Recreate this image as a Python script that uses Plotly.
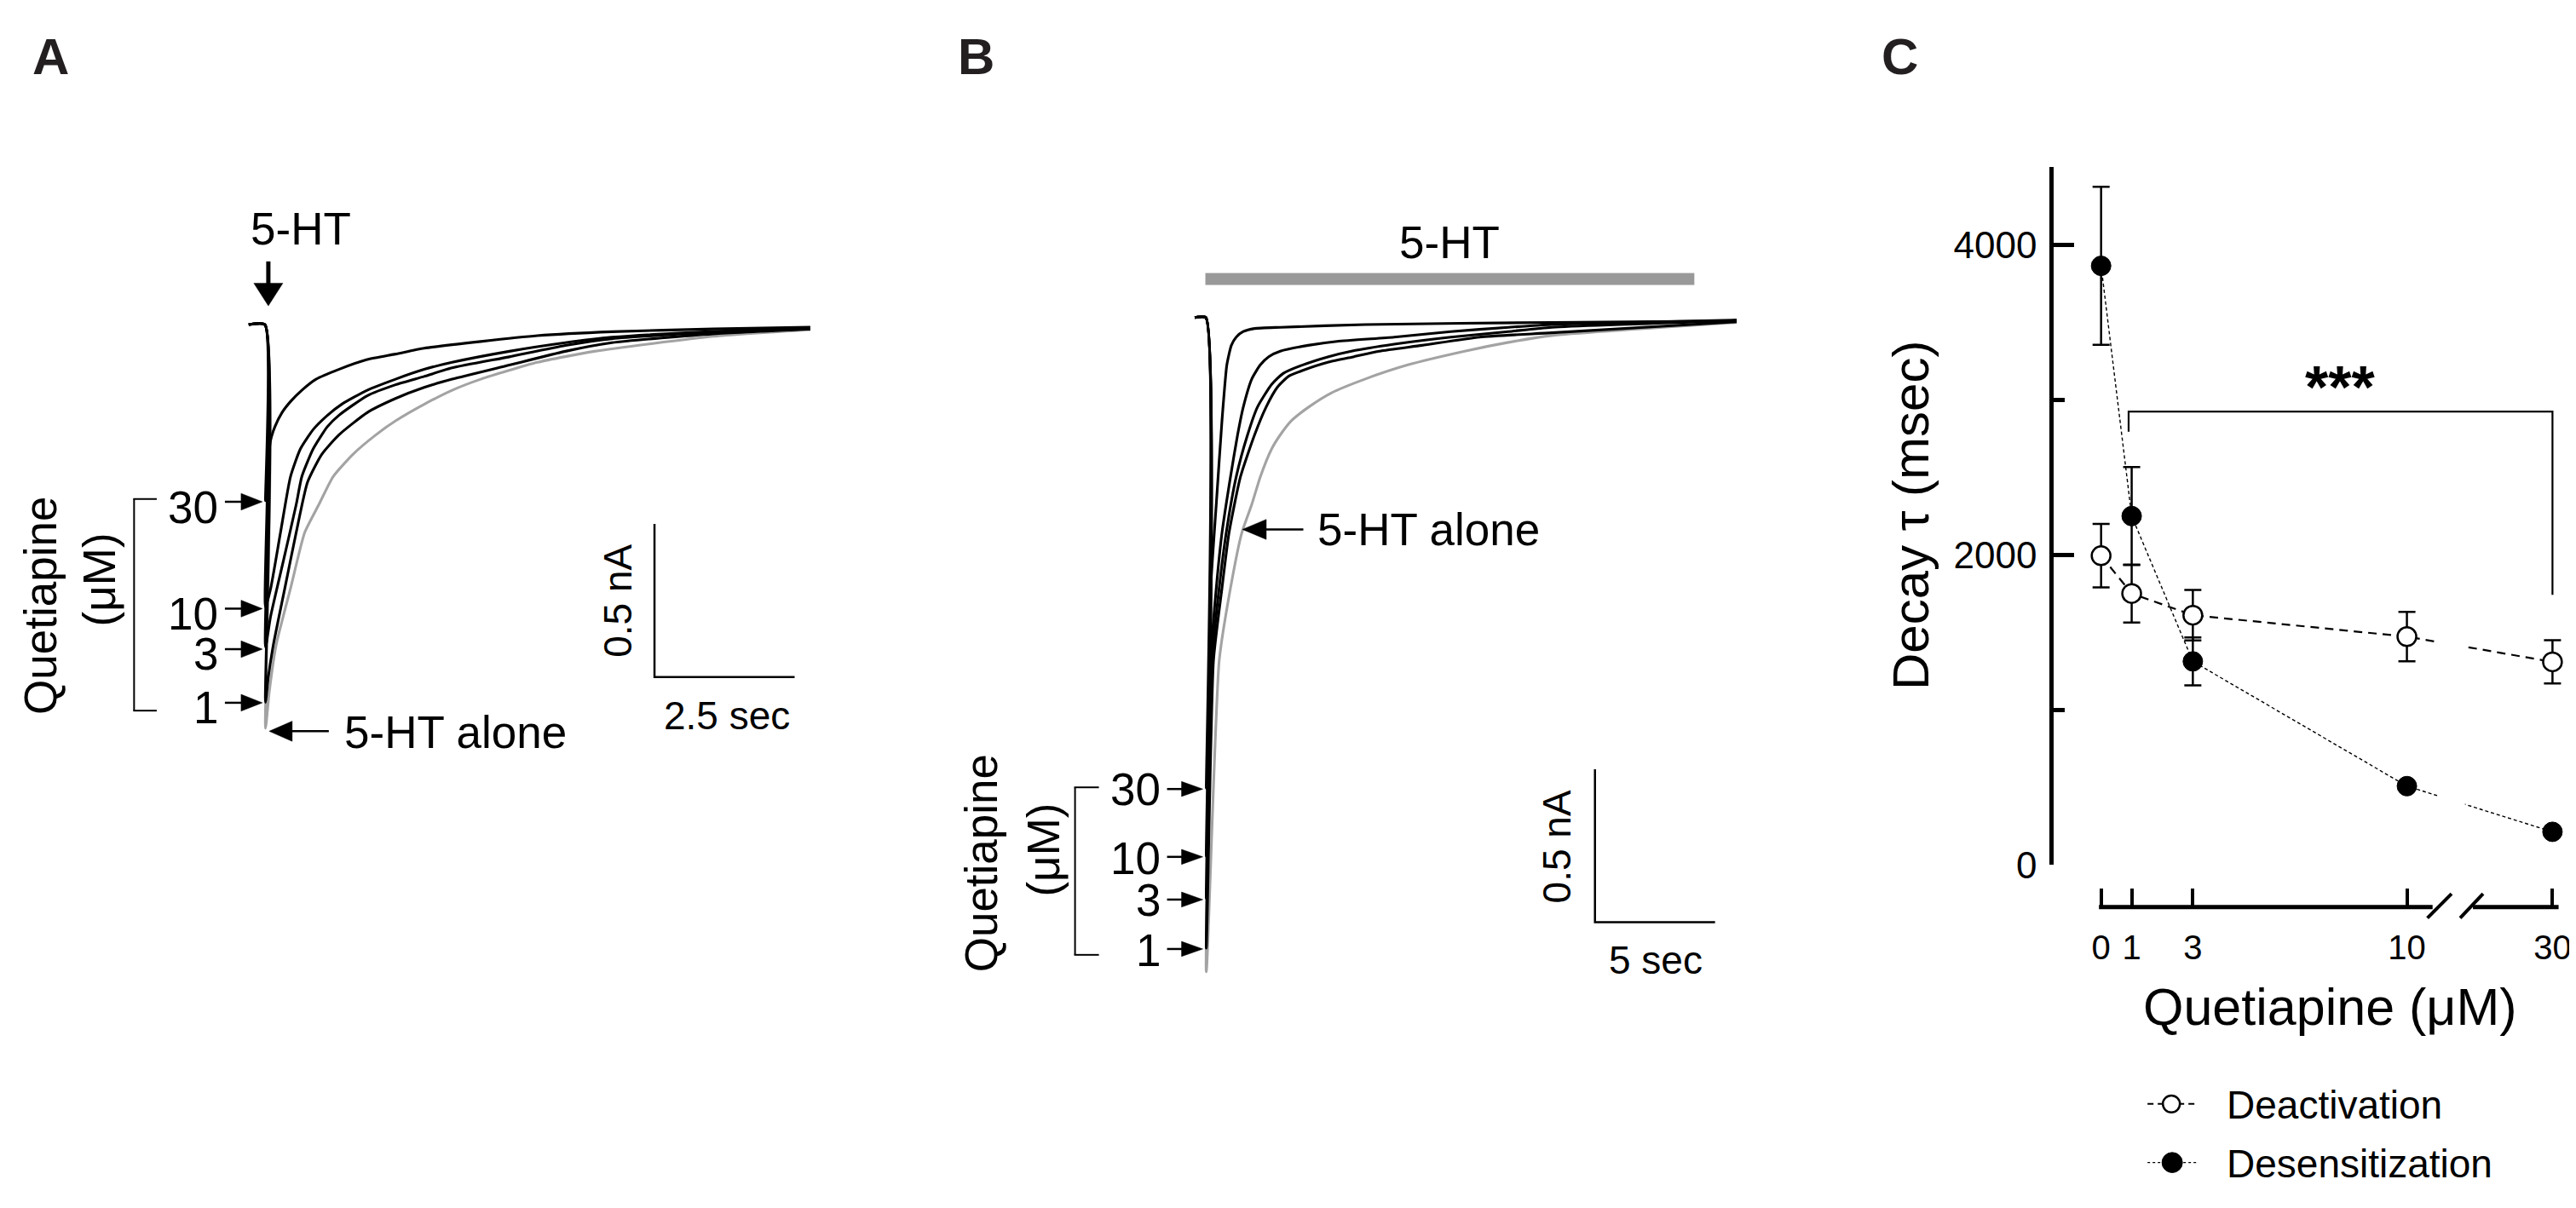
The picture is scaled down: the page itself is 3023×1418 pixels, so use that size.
import plotly.graph_objects as go

W, H = 3023, 1418
FONT = "Liberation Sans, Arial, Helvetica, sans-serif"
INK = "#000000"
GRAY = "#a3a3a3"

# ---------------- Panel A: 5-HT evoked currents (time in s, current in nA) ----------------
a_t_alone = [-0.29, 0.0, 0.01, 0.076, 0.202, 0.456, 0.710, 0.962, 1.216, 1.570, 1.976, 2.33, 2.84, 3.34, 3.85, 4.86, 5.88, 8.0, 9.73]
a_i_alone = [0, 0, -1.317, -1.20, -1.043, -0.861, -0.678, -0.587, -0.496, -0.423, -0.360, -0.314, -0.260, -0.214, -0.178, -0.123, -0.087, -0.038, -0.016]
a_t_q1 = [-0.29, 0.0, 0.01, 0.06, 0.152, 0.354, 0.558, 0.760, 1.014, 1.318, 1.824, 2.33, 2.84, 3.34, 4.36, 5.36, 6.19, 8.0, 9.73]
a_i_q1 = [0, 0, -1.232, -1.15, -1.043, -0.861, -0.678, -0.514, -0.423, -0.360, -0.287, -0.241, -0.205, -0.178, -0.132, -0.087, -0.059, -0.030, -0.014]
a_t_q3 = [-0.29, 0.0, 0.01, 0.102, 0.330, 0.558, 0.658, 0.862, 1.114, 1.318, 1.824, 2.33, 2.84, 3.34, 4.36, 5.36, 6.19, 8.0, 9.73]
a_i_q3 = [0, 0, -1.052, -0.951, -0.770, -0.587, -0.496, -0.405, -0.333, -0.296, -0.232, -0.196, -0.169, -0.141, -0.105, -0.068, -0.046, -0.025, -0.014]
a_t_q10 = [-0.29, 0.0, 0.01, 0.102, 0.278, 0.456, 0.634, 0.862, 1.114, 1.368, 1.824, 2.33, 2.84, 3.34, 4.36, 5.36, 6.19, 8.0, 9.73]
a_i_q10 = [0, 0, -0.921, -0.861, -0.678, -0.496, -0.405, -0.342, -0.296, -0.260, -0.214, -0.178, -0.146, -0.123, -0.087, -0.059, -0.041, -0.022, -0.011]
a_t_q30 = [-0.29, 0.0, 0.01, 0.050, 0.102, 0.178, 0.304, 0.456, 0.658, 0.912, 1.318, 1.824, 2.33, 2.84, 3.85, 4.86, 6.19, 8.0, 9.73]
a_i_q30 = [0, 0, -0.574, -0.459, -0.377, -0.333, -0.287, -0.251, -0.214, -0.178, -0.146, -0.114, -0.096, -0.077, -0.055, -0.036, -0.023, -0.014, -0.008]

# ---------------- Panel B: 5-HT continuous application ----------------
b_t_alone = [-0.46, 0.0, 0.02, 0.557, 1.028, 1.50, 1.915, 2.27, 2.74, 3.10, 3.57, 4.28, 5.22, 6.64, 8.41, 10.78, 12.55, 14.4, 22.1]
b_i_alone = [0, 0, -2.14, -1.123, -0.885, -0.704, -0.611, -0.521, -0.430, -0.384, -0.337, -0.293, -0.247, -0.201, -0.155, -0.110, -0.082, -0.059, -0.016]
b_t_q1 = [-0.46, 0.0, 0.02, 0.319, 0.674, 0.968, 1.443, 2.03, 2.51, 2.98, 3.45, 4.04, 5.11, 6.17, 7.23, 9.0, 11.4, 14.4, 22.1]
b_i_q1 = [0, 0, -2.063, -1.123, -0.885, -0.704, -0.521, -0.384, -0.293, -0.228, -0.192, -0.173, -0.146, -0.128, -0.110, -0.091, -0.064, -0.050, -0.014]
b_t_q3 = [-0.46, 0.0, 0.02, 0.259, 0.557, 0.851, 1.266, 1.738, 2.15, 2.74, 3.22, 4.04, 5.11, 6.06, 7.84, 10.2, 12.6, 14.4, 22.1]
b_i_q3 = [0, 0, -1.90, -1.123, -0.885, -0.704, -0.521, -0.384, -0.293, -0.219, -0.183, -0.155, -0.128, -0.110, -0.087, -0.064, -0.046, -0.032, -0.011]
b_t_q10 = [-0.46, 0.0, 0.02, 0.202, 0.436, 0.674, 1.028, 1.323, 1.56, 1.915, 2.27, 2.62, 3.10, 4.26, 5.46, 7.84, 10.2, 12.6, 14.4, 22.1]
b_i_q10 = [0, 0, -1.762, -1.123, -0.885, -0.704, -0.521, -0.384, -0.293, -0.201, -0.155, -0.128, -0.110, -0.091, -0.078, -0.064, -0.046, -0.032, -0.023, -0.008]
b_t_q30 = [-0.46, 0.0, 0.02, 0.12, 0.202, 0.436, 0.674, 0.876, 1.064, 1.266, 1.56, 2.03, 3.10, 6.63, 14.4, 22.1]
b_i_q30 = [0, 0, -1.54, -1.12, -0.885, -0.611, -0.337, -0.155, -0.091, -0.064, -0.046, -0.036, -0.032, -0.023, -0.016, -0.011]

# ---------------- Panel C: decay time constants ----------------
conc = [0, 1, 3, 10, 30]
conc_labels = ["0", "1", "3", "10", "30"]
deact_mean = [1995, 1751, 1611, 1473, 1310]
deact_err = [205, 187, 163, 160, 140]
desens_mean = [3866, 2251, 1313, 508, 213]
desens_err = [510, 316, 155, 0, 0]
y_major = [0, 2000, 4000]
y_minor = [1000, 3000]

# broken x axis: displayed position of each concentration
BREAK_POS = {0: 0, 1: 1, 3: 3, 10: 10, 30: 14.76}
xpos = [BREAK_POS[c] for c in conc]

fig = go.Figure()


def P(x, y):
    return x / W, 1 - y / H


def setup_axes(xn, yn, x0, y0, sx, sy, box, anchor_x, anchor_y):
    l, t, r, b = box
    fig.update_layout(**{
        xn: dict(domain=[l / W, r / W], range=[(l - x0) / sx, (r - x0) / sx],
                 visible=False, anchor=anchor_y, fixedrange=True),
        yn: dict(domain=[1 - b / H, 1 - t / H], range=[(y0 - b) / sy, (y0 - t) / sy],
                 visible=False, anchor=anchor_x, fixedrange=True),
    })


# pixel calibration of the trace panels
A_X0, A_Y0, A_SX, A_SY = 303.0, 379.5, 65.8, 366.0
B_X0, B_Y0, B_SX, B_SY = 1407.5, 371.0, 28.2, 365.0
setup_axes("xaxis", "yaxis", A_X0, A_Y0, A_SX, A_SY, (240, 120, 1000, 920), "x", "y")
setup_axes("xaxis2", "yaxis2", B_X0, B_Y0, B_SX, B_SY, (1370, 100, 2080, 1200), "x2", "y2")


def trace(t, i, color, xa, ya, width=3.1):
    fig.add_trace(go.Scatter(x=t, y=i, mode="lines", xaxis=xa, yaxis=ya,
                             line=dict(color=color, width=width, shape="spline", smoothing=0.55),
                             showlegend=False, hoverinfo="skip"))


trace(a_t_alone, a_i_alone, GRAY, "x", "y")
for t, i in [(a_t_q1, a_i_q1), (a_t_q3, a_i_q3), (a_t_q10, a_i_q10), (a_t_q30, a_i_q30)]:
    trace(t, i, INK, "x", "y")
trace(b_t_alone, b_i_alone, GRAY, "x2", "y2")
for t, i in [(b_t_q1, b_i_q1), (b_t_q3, b_i_q3), (b_t_q10, b_i_q10), (b_t_q30, b_i_q30)]:
    trace(t, i, INK, "x2", "y2")

# ---------------- Panel C axes ----------------
C_L, C_R = 2403, 3010
C_X0, C_SX = 2458.5, 35.9
C_Y0, C_SY = 1024.5, 0.185
XAXIS_Y = 1075
y_top = 4505
fig.update_layout(
    xaxis3=dict(domain=[C_L / W, C_R / W], range=[(C_L - C_X0) / C_SX, (C_R - C_X0) / C_SX],
                anchor="free", position=1 - XAXIS_Y / H, showline=False, showgrid=False, zeroline=False,
                ticks="inside", ticklen=22, tickwidth=4, tickcolor=INK,
                tickmode="array", tickvals=xpos, ticktext=conc_labels, ticklabelstandoff=20,
                tickfont=dict(size=40, family=FONT, color=INK), fixedrange=True),
    yaxis3=dict(domain=[1 - C_Y0 / H, 1 - (C_Y0 - y_top * C_SY) / H], range=[0, y_top],
                anchor="x3", showline=True, linewidth=5, linecolor=INK, showgrid=False, zeroline=False,
                ticks="inside", ticklen=24, tickwidth=5, tickcolor=INK,
                tickmode="array", tickvals=y_major, ticktext=[str(v) for v in y_major],
                tickfont=dict(size=44, family=FONT, color=INK), ticklabelstandoff=6,
                minor=dict(tickmode="array", tickvals=y_minor, ticks="inside", ticklen=13,
                           tickwidth=5, tickcolor=INK),
                fixedrange=True),
)

fig.add_trace(go.Scatter(
    x=xpos, y=deact_mean, xaxis="x3", yaxis="y3", mode="lines+markers", name="Deactivation",
    line=dict(color=INK, width=2.2, dash="10px,7px"),
    marker=dict(symbol="circle", size=22, color="white", line=dict(color=INK, width=2.5)),
    error_y=dict(type="data", array=deact_err, visible=True, thickness=2.5, width=10, color=INK),
    showlegend=False, hoverinfo="skip"))
fig.add_trace(go.Scatter(
    x=xpos, y=desens_mean, xaxis="x3", yaxis="y3", mode="lines+markers", name="Desensitization",
    line=dict(color=INK, width=1.4, dash="4px,3px"),
    marker=dict(symbol="circle", size=23, color=INK, line=dict(color=INK, width=1)),
    error_y=dict(type="data", array=desens_err, visible=True, thickness=2.5, width=10, color=INK),
    showlegend=False, hoverinfo="skip"))

shapes = []
annotations = []


def pline(x1, y1, x2, y2, w=2.5, color=INK, dash=None):
    a, b = P(x1, y1)
    c, d = P(x2, y2)
    ln = dict(color=color, width=w)
    if dash:
        ln["dash"] = dash
    shapes.append(dict(type="line", xref="paper", yref="paper", x0=a, y0=b, x1=c, y1=d,
                       line=ln, layer="above"))


def tri(pts):
    pp = [P(x, y) for x, y in pts]
    path = "M {} {} L {} {} L {} {} Z".format(pp[0][0], pp[0][1], pp[1][0], pp[1][1], pp[2][0], pp[2][1])
    shapes.append(dict(type="path", xref="paper", yref="paper", path=path,
                       fillcolor=INK, line=dict(color=INK, width=0.5), layer="above"))


def harrow(x_start, x_tip, y, hl=25, half=10, w=2.5):
    d = 1 if x_tip > x_start else -1
    base = x_tip - d * hl
    pline(x_start, y, base + d * 2, y, w)
    tri([(x_tip, y), (base, y - half), (base, y + half)])


def varrow(x, y_start, y_tip, hl=27, half=17, w=5):
    base = y_tip - hl
    pline(x, y_start, x, base + 2, w)
    tri([(x, y_tip), (x - half, base), (x + half, base)])


def circle(cx, cy, r, fill, lw):
    a, b = P(cx - r, cy + r)
    c, d = P(cx + r, cy - r)
    shapes.append(dict(type="circle", xref="paper", yref="paper", x0=a, y0=b, x1=c, y1=d,
                       fillcolor=fill, line=dict(color=INK, width=lw), layer="above"))


def text(s, x, y, size=53, angle=0, xanchor="center", bold=False, color=INK):
    a, b = P(x, y)
    annotations.append(dict(text=("<b>%s</b>" % s) if bold else s, x=a, y=b, xref="paper", yref="paper",
                            showarrow=False, xanchor=xanchor, yanchor="middle", textangle=angle,
                            font=dict(size=size, family=FONT, color=color)))


# ---------- Panel A decorations ----------
text("A", 52, 60, size=60, bold=True, color="#231f20")
text("5-HT", 345, 265)
varrow(307, 304, 357)
for lab, yy, ty in [("30", 591, 598), ("10", 718.6, 725), ("3", 767, 773), ("1", 831, 837)]:
    text(lab, 250, ty, xanchor="right")
    harrow(256, 300, yy)
pline(149.4, 587.7, 149.4, 840.4, w=2)
pline(148.4, 587.7, 176, 587.7, w=2)
pline(148.4, 840.4, 176, 840.4, w=2)
text("Quetiapine", 40, 715, angle=-90)
text("(μM)", 108, 684, angle=-90)
text("5-HT alone", 527, 866)
harrow(378, 308, 865, hl=27, half=12)
# scale bar A (data units of panel A)
sbA_t, sbA_i = 6.95, -1.150
shapes.append(dict(type="path", xref="x", yref="y",
                   path="M {} {} L {} {} L {} {}".format(sbA_t, sbA_i + 0.5, sbA_t, sbA_i, sbA_t + 2.5, sbA_i),
                   line=dict(color=INK, width=2.5), layer="above"))
text("0.5 nA", 717, 709, size=46, angle=-90)
text("2.5 sec", 845, 846, size=46)

# ---------- Panel B decorations ----------
text("B", 1138, 60, size=60, bold=True, color="#231f20")
text("5-HT", 1694, 281)
pline(1407, 325, 1981, 325, w=14, color="#999999")
for lab, yy, ty in [("30", 934, 934), ("10", 1015, 1017), ("3", 1066, 1067), ("1", 1125, 1127)]:
    text(lab, 1356, ty, xanchor="right")
    harrow(1362, 1404, yy, hl=25, half=9)
pline(1254, 932, 1254, 1132, w=2)
pline(1253, 932, 1282, 932, w=2)
pline(1253, 1132, 1282, 1132, w=2)
text("Quetiapine", 1144, 1023, angle=-90)
text("(μM)", 1217, 1007, angle=-90)
text("5-HT alone", 1669, 624)
harrow(1522, 1450.5, 624, hl=28, half=12)
sbB_t, sbB_i = 16.2, -1.978
shapes.append(dict(type="path", xref="x2", yref="y2",
                   path="M {} {} L {} {} L {} {}".format(sbB_t, sbB_i + 0.5, sbB_t, sbB_i, sbB_t + 5, sbB_i),
                   line=dict(color=INK, width=2.5), layer="above"))
text("0.5 nA", 1820, 1003, size=46, angle=-90)
text("5 sec", 1936, 1138, size=46)

# ---------- Panel C decorations ----------
text("C", 2222, 60, size=60, bold=True, color="#231f20")
text("Decay τ (msec)", 2235, 607, size=60, angle=-90)
text("Quetiapine (μM)", 2727, 1194, size=61)
# gap in connecting lines at the axis break
shapes.append(dict(type="rect", xref="x3", yref="y3", x0=11.0, x1=11.9, y0=40, y1=1700,
                   fillcolor="white", line=dict(width=0), layer="above"))
# broken x axis line
xa_y = 1 - XAXIS_Y / H
for s0, s1 in [(-0.07, 10.84), (12.16, 14.96)]:
    shapes.append(dict(type="line", xref="x3", yref="paper", x0=s0, x1=s1, y0=xa_y, y1=xa_y,
                       line=dict(color=INK, width=5), layer="above"))
for s0, s1 in [(10.67, 11.46), (11.74, 12.49)]:
    shapes.append(dict(type="line", xref="x3", yref="paper", x0=s0, x1=s1,
                       y0=1 - (XAXIS_Y + 13) / H, y1=1 - (XAXIS_Y - 16) / H,
                       line=dict(color=INK, width=4), layer="above"))
# significance bracket
shapes.append(dict(type="path", xref="x3", yref="y3",
                   path="M {} 2795 L {} 2925 L {} 2925 L {} 1742".format(0.9, 0.9, BREAK_POS[30], BREAK_POS[30]),
                   line=dict(color=INK, width=2.2), layer="above"))
annotations.append(dict(text="<b>***</b>", x=7.82, y=3080, xref="x3", yref="y3", showarrow=False,
                        xanchor="center", yanchor="middle", font=dict(size=70, family=FONT, color=INK)))

# legend (drawn by hand to match the original key layout)
pline(2513, 1310, 2572, 1310, w=2, dash="7px,5px")
circle(2541, 1310, 10, "white", 2.5)
text("Deactivation", 2604, 1311, size=46, xanchor="left")
pline(2513, 1380, 2572, 1380, w=1.4, dash="3px,3px")
circle(2542, 1380, 12, INK, 1)
text("Desensitization", 2604, 1381, size=46, xanchor="left")

fig.update_layout(
    width=W, height=H, margin=dict(l=0, r=0, t=0, b=0),
    paper_bgcolor="white", plot_bgcolor="rgba(0,0,0,0)",
    shapes=shapes, annotations=annotations,
    showlegend=False,
    font=dict(family=FONT, color=INK),
)

fig.write_html("out.html")
